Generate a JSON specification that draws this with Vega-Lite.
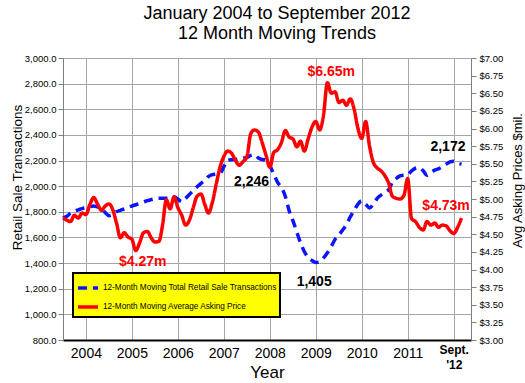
{
"$schema":"https://vega.github.io/schema/vega-lite/v6.json",
"width":408,"height":282,
"autosize":"none",
"padding":{"left":63,"top":58,"right":54,"bottom":43},
"background":"white",
"config":{"font":"Liberation Sans","view":{"stroke":null},"legend":{"strokeWidth":2}},
"title":{"text":["January 2004 to September 2012","12 Month Moving Trends"],"fontSize":18,"fontWeight":"normal","color":"#000","anchor":"middle","frame":"group","offset":10,"lineHeight":20,"dx":10},
"datasets":{
"m":[
{"d":"2004-01-01","T":1750,"P":4.73},{"d":"2004-02-01","T":1765,"P":4.70},{"d":"2004-03-01","T":1790,"P":4.68},{"d":"2004-04-01","T":1805,"P":4.77},{"d":"2004-05-01","T":1815,"P":4.73},{"d":"2004-06-01","T":1825,"P":4.80},{"d":"2004-07-01","T":1832,"P":4.78},{"d":"2004-08-01","T":1840,"P":4.92},{"d":"2004-09-01","T":1845,"P":5.02},{"d":"2004-10-01","T":1838,"P":4.93},{"d":"2004-11-01","T":1827,"P":4.84},{"d":"2004-12-01","T":1795,"P":4.90},
{"d":"2005-01-01","T":1770,"P":4.93},{"d":"2005-02-01","T":1780,"P":4.84},{"d":"2005-03-01","T":1800,"P":4.66},{"d":"2005-04-01","T":1812,"P":4.45},{"d":"2005-05-01","T":1822,"P":4.52},{"d":"2005-06-01","T":1835,"P":4.46},{"d":"2005-07-01","T":1845,"P":4.43},{"d":"2005-08-01","T":1855,"P":4.27},{"d":"2005-09-01","T":1866,"P":4.38},{"d":"2005-10-01","T":1876,"P":4.52},{"d":"2005-11-01","T":1887,"P":4.54},{"d":"2005-12-01","T":1895,"P":4.45},
{"d":"2006-01-01","T":1903,"P":4.39},{"d":"2006-02-01","T":1905,"P":4.40},{"d":"2006-03-01","T":1905,"P":4.62},{"d":"2006-04-01","T":1906,"P":4.99},{"d":"2006-05-01","T":1912,"P":4.86},{"d":"2006-06-01","T":1918,"P":5.03},{"d":"2006-07-01","T":1900,"P":4.88},{"d":"2006-08-01","T":1879,"P":4.77},{"d":"2006-09-01","T":1905,"P":4.63},{"d":"2006-10-01","T":1935,"P":4.70},{"d":"2006-11-01","T":1965,"P":4.88},{"d":"2006-12-01","T":1995,"P":5.04},
{"d":"2007-01-01","T":2022,"P":5.07},{"d":"2007-02-01","T":2045,"P":4.92},{"d":"2007-03-01","T":2075,"P":4.80},{"d":"2007-04-01","T":2090,"P":4.95},{"d":"2007-05-01","T":2095,"P":5.20},{"d":"2007-06-01","T":2100,"P":5.45},{"d":"2007-07-01","T":2150,"P":5.60},{"d":"2007-08-01","T":2204,"P":5.68},{"d":"2007-09-01","T":2207,"P":5.65},{"d":"2007-10-01","T":2208,"P":5.55},{"d":"2007-11-01","T":2212,"P":5.48},{"d":"2007-12-01","T":2218,"P":5.53},
{"d":"2008-01-01","T":2225,"P":5.60},{"d":"2008-02-01","T":2240,"P":5.93},{"d":"2008-03-01","T":2246,"P":5.98},{"d":"2008-04-01","T":2220,"P":5.95},{"d":"2008-05-01","T":2208,"P":5.80},{"d":"2008-06-01","T":2204,"P":5.62},{"d":"2008-07-01","T":2160,"P":5.45},{"d":"2008-08-01","T":2095,"P":5.66},{"d":"2008-09-01","T":2030,"P":5.70},{"d":"2008-10-01","T":1990,"P":5.80},{"d":"2008-11-01","T":1920,"P":5.97},{"d":"2008-12-01","T":1810,"P":5.88},
{"d":"2009-01-01","T":1730,"P":5.85},{"d":"2009-02-01","T":1640,"P":5.74},{"d":"2009-03-01","T":1560,"P":5.82},{"d":"2009-04-01","T":1490,"P":5.68},{"d":"2009-05-01","T":1445,"P":5.85},{"d":"2009-06-01","T":1420,"P":6.02},{"d":"2009-07-01","T":1405,"P":6.10},{"d":"2009-08-01","T":1410,"P":5.98},{"d":"2009-09-01","T":1440,"P":6.20},{"d":"2009-10-01","T":1480,"P":6.65},{"d":"2009-11-01","T":1530,"P":6.50},{"d":"2009-12-01","T":1585,"P":6.52},
{"d":"2010-01-01","T":1620,"P":6.37},{"d":"2010-02-01","T":1660,"P":6.40},{"d":"2010-03-01","T":1700,"P":6.33},{"d":"2010-04-01","T":1760,"P":6.42},{"d":"2010-05-01","T":1810,"P":6.28},{"d":"2010-06-01","T":1860,"P":6.00},{"d":"2010-07-01","T":1885,"P":5.86},{"d":"2010-08-01","T":1860,"P":6.10},{"d":"2010-09-01","T":1830,"P":5.75},{"d":"2010-10-01","T":1860,"P":5.52},{"d":"2010-11-01","T":1905,"P":5.44},{"d":"2010-12-01","T":1930,"P":5.40},
{"d":"2011-01-01","T":1950,"P":5.33},{"d":"2011-02-01","T":1975,"P":5.22},{"d":"2011-03-01","T":2030,"P":5.04},{"d":"2011-04-01","T":2060,"P":5.01},{"d":"2011-05-01","T":2080,"P":5.00},{"d":"2011-06-01","T":2087,"P":5.05},{"d":"2011-07-01","T":2090,"P":5.29},{"d":"2011-08-01","T":2120,"P":4.72},{"d":"2011-09-01","T":2140,"P":4.68},{"d":"2011-10-01","T":2145,"P":4.60},{"d":"2011-11-01","T":2120,"P":4.56},{"d":"2011-12-01","T":2085,"P":4.68},
{"d":"2012-01-01","T":2105,"P":4.63},{"d":"2012-02-01","T":2125,"P":4.66},{"d":"2012-03-01","T":2135,"P":4.60},{"d":"2012-04-01","T":2150,"P":4.63},{"d":"2012-05-01","T":2170,"P":4.62},{"d":"2012-06-01","T":2190,"P":4.55},{"d":"2012-07-01","T":2195,"P":4.51},{"d":"2012-08-01","T":2180,"P":4.60},{"d":"2012-09-01","T":2172,"P":4.73}
],
"n":[
{"d":"2008-02-07","s":"T","v":2033,"t":"2,246"},
{"d":"2009-06-18","s":"T","v":1252,"t":"1,405"},
{"d":"2012-05-16","s":"T","v":2306,"t":"2,172"},
{"d":"2009-11-01","s":"P","v":6.80,"t":"$6.65m"},
{"d":"2005-09-25","s":"P","v":4.106,"t":"$4.27m"},
{"d":"2012-05-01","s":"P","v":4.90,"t":"$4.73m"}
]
},
"layer":[
{"data":{"name":"m"},"transform":[{"fold":["T","P"],"as":["s","v"]},{"filter":"datum.s=='T'"}],
"mark":{"type":"line","strokeWidth":3.5,"interpolate":"monotone"},
"encoding":{
"x":{"field":"d","type":"temporal","scale":{"type":"utc","domain":[{"year":2004,"month":1,"date":1,"utc":true},{"year":2012,"month":11,"date":15,"utc":true}]},
"axis":{"values":[{"year":2004,"month":7,"date":1,"utc":true},{"year":2005,"month":1,"date":1,"utc":true},{"year":2005,"month":7,"date":1,"utc":true},{"year":2006,"month":1,"date":1,"utc":true},{"year":2006,"month":7,"date":1,"utc":true},{"year":2007,"month":1,"date":1,"utc":true},{"year":2007,"month":7,"date":1,"utc":true},{"year":2008,"month":1,"date":1,"utc":true},{"year":2008,"month":7,"date":1,"utc":true},{"year":2009,"month":1,"date":1,"utc":true},{"year":2009,"month":7,"date":1,"utc":true},{"year":2010,"month":1,"date":1,"utc":true},{"year":2010,"month":7,"date":1,"utc":true},{"year":2011,"month":1,"date":1,"utc":true},{"year":2011,"month":7,"date":1,"utc":true},{"year":2012,"month":1,"date":1,"utc":true},{"year":2012,"month":7,"date":1,"utc":true}],
"grid":true,"gridColor":"#a6a6a6","gridWidth":1,
"tickColor":{"condition":{"test":"utcmonth(datum.value)==0","value":"#a6a6a6"},"value":"transparent"},
"tickSize":18,"tickWidth":3,"domainColor":"#000","domainWidth":2,
"labelExpr":"utcmonth(datum.value)==6 ? (utcyear(datum.value)==2012 ? ['Sept.', \"'12\"] : '' + utcyear(datum.value)) : ''",
"labelBaseline":"alphabetic",
"labelPadding":{"condition":{"test":"utcyear(datum.value)==2012","value":-5},"value":-1},
"labelFontSize":{"condition":{"test":"utcyear(datum.value)==2012","value":12},"value":14},
"labelFontWeight":{"condition":{"test":"utcyear(datum.value)==2012","value":"bold"},"value":"normal"},
"labelLineHeight":15,"labelColor":"#000","labelOverlap":false,"labelBound":false,"labelFlush":false,
"title":"Year","titleFontSize":17,"titleFontWeight":"normal","titleColor":"#000","titleBaseline":"alphabetic","titleY":37}},
"y":{"field":"v","type":"quantitative","scale":{"domain":[800,3000],"nice":false,"zero":false},
"axis":{"orient":"left","values":[800,1000,1200,1400,1600,1800,2000,2200,2400,2600,2800,3000],"format":",.1f","title":"Retail Sale Transactions","titleFontSize":13.5,"titleFontWeight":"normal","titleColor":"#000","titleAngle":270,"titleAlign":"center","titleBaseline":"middle","titleX":-46,"titleY":119,"labelFontSize":9.5,"labelColor":"#000","grid":true,"gridColor":"#a6a6a6","domainColor":"#7f7f7f","tickColor":"#7f7f7f","tickSize":5,"labelPadding":2}},
"color":{"field":"s","type":"nominal","scale":{"domain":["T","P"],"range":["#0a14ff","#ff0000"]},
"legend":{"orient":"none","legendX":10,"legendY":215,"title":null,"fillColor":"#ffff00","strokeColor":"#000","padding":3,"rowPadding":-1,"labelFontSize":8.2,"labelColor":"#000","symbolType":"stroke","symbolSize":400,"symbolStrokeWidth":3.5,"labelOffset":3,"labelLimit":0,"labelExpr":"datum.label=='T' ? '12-Month Moving Total Retail Sale Transactions' : '12-Month Moving Average Asking Price'"}},
"strokeDash":{"field":"s","type":"nominal","scale":{"domain":["T","P"],"range":[[9,6],[1,0]]},
"legend":{"orient":"none","legendX":10,"legendY":215,"title":null,"fillColor":"#ffff00","strokeColor":"#000","padding":3,"rowPadding":-1,"labelFontSize":8.2,"labelColor":"#000","symbolType":"stroke","symbolSize":400,"symbolStrokeWidth":3.5,"labelOffset":3,"labelLimit":0,"labelExpr":"datum.label=='T' ? '12-Month Moving Total Retail Sale Transactions' : '12-Month Moving Average Asking Price'"}}
}},
{"data":{"name":"n"},"transform":[{"filter":"datum.s=='T'"}],
"mark":{"type":"text","fontSize":14,"fontWeight":"bold","color":"#000"},
"encoding":{"x":{"field":"d","type":"temporal"},"y":{"field":"v","type":"quantitative","scale":{"domain":[800,3000],"nice":false,"zero":false},"axis":null},"text":{"field":"t"}}},
{"data":{"name":"m"},"transform":[{"fold":["T","P"],"as":["s","v"]},{"filter":"datum.s=='P'"}],
"mark":{"type":"line","strokeWidth":3.5,"interpolate":"monotone"},
"encoding":{
"x":{"field":"d","type":"temporal"},
"y":{"field":"v","type":"quantitative","scale":{"domain":[3,7],"nice":false,"zero":false},
"axis":{"orient":"right","values":[3,3.25,3.5,3.75,4,4.25,4.5,4.75,5,5.25,5.5,5.75,6,6.25,6.5,6.75,7],"format":"$.2f","title":"Avg Asking Prices $mil.","titleAngle":270,"titleAlign":"center","titleBaseline":"middle","titleX":46,"titleY":122,"titleFontSize":13,"titleFontWeight":"normal","titleColor":"#000","labelFontSize":9.5,"labelColor":"#000","grid":false,"domainColor":"#7f7f7f","tickColor":"#7f7f7f","tickSize":5,"labelPadding":3}},
"color":{"field":"s","type":"nominal"},
"strokeDash":{"field":"s","type":"nominal"}
}},
{"data":{"name":"n"},"transform":[{"filter":"datum.s=='P'"}],
"mark":{"type":"text","fontSize":14,"fontWeight":"bold","color":"#ff0000"},
"encoding":{"x":{"field":"d","type":"temporal"},"y":{"field":"v","type":"quantitative","scale":{"domain":[3,7],"nice":false,"zero":false},"axis":null},"text":{"field":"t"}}}
],
"resolve":{"scale":{"y":"independent"}}
}
